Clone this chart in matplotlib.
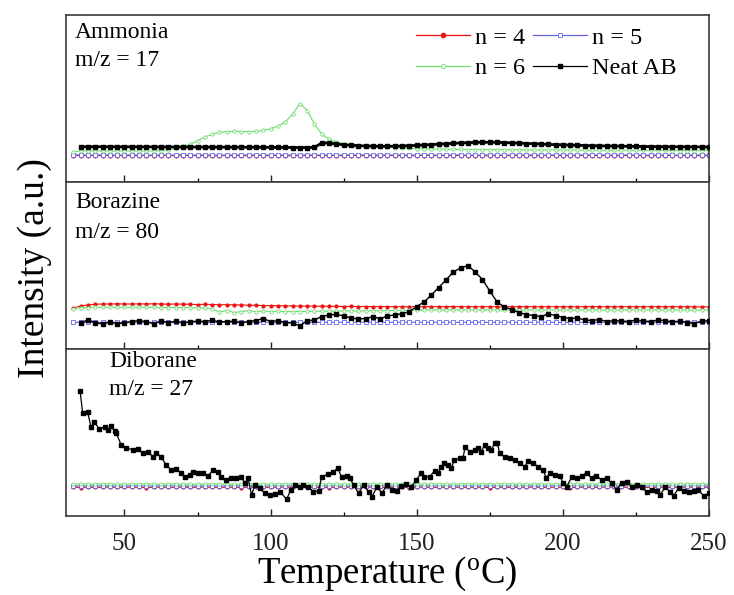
import numpy as np
import matplotlib
matplotlib.use("Agg")
import matplotlib.pyplot as plt
from matplotlib.ticker import MultipleLocator

plt.rcParams['font.family'] = ['Liberation Serif', 'DejaVu Serif']
plt.rcParams['mathtext.fontset'] = 'custom'
plt.rcParams['mathtext.rm'] = 'Liberation Serif'

# ---------------- data ----------------
# temperature sampling grid (degC) used for the digitised traces
temps = np.arange(32.5, 250.01, 2.5)          # 88 samples, 32.5 ... 250
temps_ab = temps[1:]                           # neat AB traces start at 35

series_names = ["n = 4", "n = 5", "n = 6", "Neat AB"]
panel_titles = ["Ammonia", "Borazine", "Diborane"]
panel_mz = ["m/z = 17", "m/z = 80", "m/z = 27"]
xticks = [50, 100, 150, 200, 250]

# ---- Ammonia, m/z = 17 ----
nh3_n4 = [26.3, 26.5, 26.2, 26.4, 26.3, 26.5, 26.2, 26.4,
          26.3, 26.4, 26.2, 26.5, 26.3, 26.4, 26.2, 26.3,
          26.4, 26.3, 26.5, 26.2, 26.3, 26.4, 26.3, 26.5,
          26.2, 26.3, 26.4, 26.3, 26.5, 26.3, 26.2, 26.4,
          26.3, 26.5, 26.3, 26.2, 26.4, 26.3, 26.5, 26.3,
          26.4, 26.2, 26.3, 26.5, 26.3, 26.4, 26.2, 26.3,
          26.5, 26.3, 26.4, 26.2, 26.3, 26.5, 26.3, 26.4,
          26.3, 26.2, 26.4, 26.3, 26.5, 26.3, 26.2, 26.4,
          26.3, 26.5, 26.3, 26.4, 26.2, 26.3, 26.4, 26.3,
          26.5, 26.2, 26.3, 26.4, 26.3, 26.5, 26.3, 26.2,
          26.4, 26.3, 26.5, 26.3, 26.2, 26.4, 26.3, 26.4]
nh3_n5 = [27.0, 27.1, 26.9, 27.0, 27.1, 27.0, 26.9, 27.0,
          27.1, 27.0, 27.0, 26.9, 27.1, 27.0, 27.0, 27.1,
          26.9, 27.0, 27.1, 27.0, 26.9, 27.0, 27.1, 27.0,
          27.0, 27.1, 26.9, 27.0, 27.0, 27.1, 27.0, 26.9,
          27.1, 27.0, 27.0, 27.1, 26.9, 27.0, 27.0, 27.1,
          27.0, 26.9, 27.1, 27.0, 27.0, 27.1, 26.9, 27.0,
          27.1, 27.0, 26.9, 27.0, 27.1, 27.0, 27.0, 26.9,
          27.0, 27.1, 27.0, 26.9, 27.0, 27.1, 27.0, 27.0,
          26.9, 27.0, 27.1, 27.0, 27.0, 26.9, 27.1, 27.0,
          27.0, 27.1, 26.9, 27.0, 27.1, 27.0, 27.0, 26.9,
          27.1, 27.0, 27.0, 26.9, 27.1, 27.0, 27.0, 27.0]
nh3_n6 = [30.3, 31.0, 31.0, 31.0, 31.0, 31.0, 31.0, 31.0,
          31.0, 31.0, 31.0, 31.0, 31.3, 32.0, 33.7, 36.0,
          37.7, 41.3, 45.0, 47.7, 49.7, 50.3, 50.7, 50.5,
          50.3, 50.7, 51.7, 53.0, 56.0, 60.0, 67.7, 78.5,
          71.5, 58.0, 48.0, 43.0, 40.0, 38.3, 37.0, 36.3,
          35.7, 35.3, 35.0, 34.7, 34.4, 34.0, 33.7, 33.4,
          33.2, 33.0, 32.9, 32.8, 32.7, 32.6, 32.5, 32.5,
          32.4, 32.4, 32.3, 32.3, 32.2, 32.2, 32.1, 32.1,
          32.0, 32.0, 32.0, 31.9, 31.9, 31.9, 31.8, 31.8,
          31.8, 31.8, 31.7, 31.7, 31.7, 31.7, 31.6, 31.6,
          31.6, 31.6, 31.5, 31.5, 31.5, 31.5, 31.5, 31.5]
nh3_ab = [35.3, 35.3, 35.3, 35.3, 35.2, 35.2, 35.2,
          35.2, 35.1, 35.1, 35.1, 35.0, 35.0, 35.0, 35.0,
          35.0, 34.9, 34.9, 34.9, 34.8, 34.8, 34.8, 34.8,
          34.7, 34.7, 34.7, 34.6, 34.6, 34.6, 34.5, 34.5,
          34.5, 34.6, 39.0, 39.0, 38.0, 37.2, 36.7, 36.3,
          36.0, 35.8, 35.7, 35.7, 35.8, 36.0, 36.3, 36.6,
          37.0, 37.4, 37.8, 38.2, 38.6, 39.0, 39.3, 39.6,
          39.7, 39.7, 39.6, 39.4, 39.1, 38.8, 38.5, 38.2,
          37.9, 37.6, 37.3, 37.1, 36.9, 36.7, 36.5, 36.3,
          36.1, 36.0, 35.9, 35.8, 35.7, 35.6, 35.5, 35.4,
          35.3, 35.3, 35.2, 35.2, 35.1, 35.1, 35.0, 35.0]

# ---- Borazine, m/z = 80 ----
bzn_n4 = [41.0, 43.0, 44.0, 44.7, 45.0, 45.0, 45.2, 45.0,
          45.0, 45.2, 45.0, 45.3, 45.0, 44.8, 45.0, 44.8,
          44.7, 44.5, 44.7, 44.5, 44.3, 44.3, 44.2, 44.0,
          43.8, 43.7, 43.5, 43.3, 43.3, 43.2, 43.0, 43.0,
          43.0, 42.8, 42.8, 42.7, 42.7, 42.5, 42.6, 42.5,
          42.5, 42.4, 42.4, 42.3, 42.4, 42.3, 42.3, 42.3,
          42.3, 42.4, 42.3, 42.3, 42.5, 42.3, 42.3, 42.2,
          42.3, 42.3, 42.2, 42.3, 42.3, 42.2, 42.3, 42.3,
          42.2, 42.3, 42.3, 42.2, 42.3, 42.2, 42.3, 42.5,
          42.2, 42.3, 42.2, 42.3, 42.2, 42.3, 42.2, 42.3,
          42.3, 42.2, 42.3, 42.2, 42.3, 42.2, 42.1, 42.2]
bzn_n5 = [26.7, 26.8, 26.6, 26.7, 26.7, 26.8, 26.6, 26.7,
          26.8, 26.7, 26.6, 26.7, 26.8, 26.7, 26.7, 26.6,
          26.7, 26.8, 26.7, 26.6, 26.7, 26.7, 26.8, 26.7,
          26.6, 26.7, 26.8, 26.7, 26.7, 26.6, 26.7, 26.8,
          26.7, 26.7, 26.6, 26.8, 26.7, 26.7, 26.6, 26.7,
          26.8, 26.7, 26.7, 26.6, 26.7, 26.8, 26.7, 26.7,
          26.6, 26.7, 26.8, 26.7, 26.7, 26.6, 26.7, 26.8,
          26.7, 26.6, 26.7, 26.8, 26.7, 26.7, 26.6, 26.7,
          26.8, 26.7, 26.7, 26.6, 26.7, 26.8, 26.7, 26.6,
          26.7, 26.7, 26.8, 26.7, 26.6, 26.7, 26.7, 26.8,
          26.7, 26.6, 26.7, 26.8, 26.7, 26.7, 26.6, 26.7]
bzn_n6 = [40.5, 41.2, 41.5, 41.7, 41.7, 41.7, 41.6, 41.7,
          41.7, 41.6, 41.7, 41.6, 41.5, 41.5, 41.4, 41.4,
          41.3, 41.2, 41.0, 40.0, 37.0, 38.5, 36.3, 37.5,
          38.3, 37.5, 38.0, 37.5, 37.7, 37.5, 37.4, 37.5,
          37.6, 37.7, 37.8, 37.8, 37.9, 38.0, 38.0, 38.1,
          38.2, 38.2, 38.3, 38.4, 38.6, 38.7, 38.8, 38.9,
          39.0, 39.0, 39.0, 39.0, 39.0, 39.0, 39.0, 39.0,
          39.0, 39.1, 39.0, 39.0, 38.9, 39.0, 39.0, 39.1,
          39.0, 39.0, 38.9, 39.0, 39.0, 39.1, 39.0, 39.0,
          38.9, 39.0, 39.0, 39.0, 39.1, 39.0, 38.9, 39.0,
          39.0, 39.0, 39.1, 39.0, 39.0, 38.9, 39.0, 39.0]
bzn_ab = [25.7, 29.3, 26.3, 25.2, 26.7, 25.5, 26.0,
          27.5, 28.5, 27.3, 25.2, 28.0, 26.5, 27.7, 26.3,
          27.0, 28.0, 27.3, 28.7, 27.0, 27.5, 27.7, 26.3,
          27.5, 28.5, 30.5, 27.5, 28.3, 26.5, 26.0, 23.0,
          28.3, 29.0, 32.5, 34.0, 34.7, 33.0, 31.0, 30.0,
          30.5, 32.3, 30.3, 33.0, 34.0, 35.3, 37.5, 42.5,
          47.0, 54.0, 61.5, 69.0, 77.0, 81.0, 83.5, 77.0,
          69.5, 58.0, 47.0, 42.0, 39.5, 36.5, 34.5, 33.5,
          32.5, 35.0, 33.5, 31.5, 30.5, 31.0, 29.0, 28.5,
          29.5, 27.5, 28.5, 28.0, 27.5, 29.0, 28.0, 27.5,
          29.0, 28.5, 27.0, 28.0, 26.5, 25.5, 28.0, 28.3]

# ---- Diborane, m/z = 27 ----
dbn_n4 = [28.7, 28.5, 28.8, 28.6, 28.7, 28.9, 28.6, 28.7,
          28.8, 28.7, 28.5, 28.7, 28.8, 28.6, 28.7, 28.8,
          28.6, 28.7, 28.9, 28.7, 28.6, 28.8, 28.7, 28.5,
          28.7, 28.8, 28.6, 28.7, 28.7, 28.9, 28.6, 28.7,
          28.8, 28.6, 28.7, 28.5, 28.7, 28.8, 28.7, 28.6,
          28.7, 28.9, 28.7, 28.6, 28.8, 28.7, 28.5, 28.7,
          28.8, 28.6, 28.7, 28.7, 28.9, 28.6, 28.7, 28.8,
          28.7, 28.5, 28.7, 28.8, 28.6, 28.7, 28.7, 28.9,
          28.6, 28.7, 28.8, 28.7, 28.5, 28.7, 28.8, 28.6,
          28.7, 28.9, 28.7, 28.6, 28.8, 28.7, 28.5, 28.7,
          28.8, 28.6, 28.7, 28.7, 28.9, 28.6, 28.7, 28.8]
dbn_n5 = [30.0, 30.1, 29.9, 30.0, 30.1, 30.0, 29.9, 30.0,
          30.1, 30.0, 30.0, 29.9, 30.1, 30.0, 30.0, 30.1,
          29.9, 30.0, 30.1, 30.0, 29.9, 30.0, 30.1, 30.0,
          30.0, 30.1, 29.9, 30.0, 30.0, 30.1, 30.0, 29.9,
          30.1, 30.0, 30.0, 30.1, 29.9, 30.0, 30.0, 30.1,
          30.0, 29.9, 30.1, 30.0, 30.0, 30.1, 29.9, 30.0,
          30.1, 30.0, 29.9, 30.0, 30.1, 30.0, 30.0, 29.9,
          30.0, 30.1, 30.0, 29.9, 30.0, 30.1, 30.0, 30.0,
          29.9, 30.0, 30.1, 30.0, 30.0, 29.9, 30.1, 30.0,
          30.0, 30.1, 29.9, 30.0, 30.1, 30.0, 30.0, 29.9,
          30.1, 30.0, 30.0, 29.9, 30.1, 30.0, 30.0, 30.0]
dbn_n6 = [32.0, 32.1, 31.9, 32.0, 32.0, 32.1, 32.0, 31.9,
          32.0, 32.1, 32.0, 32.0, 31.9, 32.0, 32.1, 32.0,
          32.0, 31.9, 32.0, 32.1, 32.0, 32.0, 31.9, 32.0,
          32.1, 32.0, 32.0, 31.9, 32.0, 32.1, 32.0, 32.0,
          31.9, 32.0, 32.1, 32.0, 32.0, 31.9, 32.0, 32.1,
          32.0, 32.0, 31.9, 32.0, 32.1, 32.0, 32.0, 31.9,
          32.0, 32.1, 32.0, 32.0, 31.9, 32.0, 32.1, 32.0,
          32.0, 31.9, 32.0, 32.1, 32.0, 32.0, 31.9, 32.0,
          32.1, 32.0, 32.0, 31.9, 32.0, 32.1, 32.0, 32.0,
          31.9, 32.0, 32.1, 32.0, 32.0, 31.9, 32.0, 32.1,
          32.0, 32.0, 31.9, 32.0, 32.1, 32.0, 32.0, 32.0]
dbn_ab_temps = [34.8, 35.7, 37.4, 38.6, 39.7, 41.4, 43.2, 44.3, 45.4, 46.6,
                47.2, 48.9, 50.6, 52.9, 54.6, 56.3, 58.0, 59.7, 60.9, 62.6,
                64.3, 66.0, 67.7, 69.5, 70.6, 72.3, 73.5, 75.2, 76.9, 78.6,
                80.3, 82.0, 83.2, 84.9, 86.6, 88.3, 90.0, 91.2, 92.3, 93.5,
                94.6, 96.3, 98.1, 99.8, 101.5, 103.2, 105.5, 106.9, 108.4, 110.1,
                111.2, 112.9, 114.6, 116.4, 117.5, 119.8, 121.5, 122.9, 124.4, 126.1,
                127.2, 128.4, 130.1, 131.8, 133.5, 134.7, 136.4, 138.1, 139.8, 141.5,
                143.2, 144.6, 146.3, 148.1, 149.8, 151.5, 152.6, 154.4, 156.1, 157.2,
                158.4, 159.5, 160.6, 161.8, 162.9, 164.7, 165.8, 166.6, 168.1, 169.8,
                170.9, 172.1, 173.2, 174.4, 175.5, 176.7, 177.6, 178.4, 180.1, 181.8,
                183.5, 185.2, 187.0, 188.1, 189.8, 191.5, 193.2, 194.4, 195.5, 197.3,
                199.0, 200.1, 201.3, 203.0, 204.7, 206.4, 208.1, 209.8, 211.5, 213.3,
                215.0, 216.7, 218.4, 220.1, 221.8, 223.6, 225.3, 227.0, 228.7, 230.4,
                232.1, 233.3, 235.0, 236.7, 237.9, 239.6, 241.3, 243.0, 244.7, 246.4,
                248.2, 249.9]
dbn_ab = [125.3, 103.3, 103.7, 88.7, 94.3, 86.7, 89.3, 86.0, 90.3, 85.0,
          82.7, 71.0, 68.3, 66.0, 66.7, 62.7, 64.3, 59.3, 63.3, 58.7,
          51.0, 46.0, 47.0, 42.7, 38.7, 41.0, 44.3, 42.7, 42.7, 40.0,
          46.0, 44.3, 39.3, 36.0, 37.7, 37.7, 39.3, 32.7, 37.7, 21.0,
          31.0, 27.7, 22.7, 21.0, 22.0, 24.3, 16.7, 26.0, 31.0, 29.3,
          31.0, 29.3, 24.3, 25.3, 39.3, 42.0, 44.3, 47.7, 38.7, 40.0,
          37.7, 31.0, 22.7, 31.0, 24.3, 19.3, 29.3, 22.7, 31.0, 26.0,
          25.3, 30.0, 32.0, 28.7, 36.0, 42.7, 39.3, 39.3, 45.0, 42.7,
          49.3, 53.3, 51.0, 47.7, 56.0, 57.7, 57.7, 69.3, 64.3, 66.0,
          67.7, 64.3, 71.0, 67.7, 66.0, 72.7, 72.7, 62.7, 58.7, 57.7,
          56.0, 53.3, 49.3, 55.3, 53.3, 49.3, 46.0, 37.7, 43.3, 41.0,
          40.0, 32.7, 29.3, 38.7, 37.7, 40.0, 43.3, 37.7, 40.0, 36.0,
          37.7, 32.7, 26.0, 33.3, 34.3, 29.3, 31.0, 28.7, 24.3, 26.0,
          25.3, 21.0, 29.3, 24.3, 20.3, 27.7, 25.3, 24.3, 25.3, 26.0,
          20.0, 22.7]

panels = [
    (temps, nh3_n4, temps, nh3_n5, temps, nh3_n6, temps_ab, nh3_ab),
    (temps, bzn_n4, temps, bzn_n5, temps, bzn_n6, temps_ab, bzn_ab),
    (temps, dbn_n4, temps, dbn_n5, temps, dbn_n6, dbn_ab_temps, dbn_ab),
]

# ---------------- styles ----------------
styles = [
    dict(color='#ee1111', marker='o', mfc='#ee1111', mec='#ee1111', ms=2.0, lw=0.8),
    dict(color='#6464e8', marker='s', mfc='white', mec='#6464e8', ms=2.2, lw=0.8, mew=0.6),
    dict(color='#6edc6e', marker='o', mfc='white', mec='#6edc6e', ms=2.4, lw=0.8, mew=0.6),
    dict(color='black', marker='s', mfc='black', mec='black', ms=2.2, lw=1.0),
]
ab_lw = [2.0, 1.0, 0.9]

fig, axes = plt.subplots(3, 1, sharex=True, figsize=(7.34, 5.95), dpi=100)
fig.subplots_adjust(left=66/734, right=709/734, top=1-15/595, bottom=1-516/595, hspace=0)

title_pos = [(0.014, 0.862, 0.695), (0.014, 0.844, 0.665), (0.067, 0.892, 0.725)]

handles = []
for i, ax in enumerate(axes):
    data = panels[i]
    hs = []
    for k in range(4):
        st = dict(styles[k])
        if k == 3:
            st['lw'] = ab_lw[i]
        h, = ax.plot(data[2*k], data[2*k+1], label=series_names[k], zorder=2 + (k == 3), **st)
        hs.append(h)
    if i == 0:
        handles = hs
    ax.set_xlim(30, 250)
    ax.set_ylim(0, 167)
    ax.set_yticks([])
    ax.xaxis.set_major_locator(MultipleLocator(50))
    ax.xaxis.set_minor_locator(MultipleLocator(25))
    ax.tick_params(axis='x', which='major', direction='in', length=5, width=1.0,
                   top=False, labelsize=18, pad=12, colors='#222222')
    ax.tick_params(axis='x', which='minor', direction='in', length=3, width=0.9, top=False)
    for sp in ax.spines.values():
        sp.set_color('#3a3a3a')
        sp.set_linewidth(1.2)
    tx, ty1, ty2 = title_pos[i]
    ax.text(tx, ty1, panel_titles[i], transform=ax.transAxes, fontsize=17, va='baseline', ha='left')
    ax.text(tx, ty2, panel_mz[i], transform=ax.transAxes, fontsize=17, va='baseline', ha='left')

axes[2].set_xticks(xticks)
axes[2].set_xlabel(r'Temperature ($\mathregular{^o}$C)', fontsize=26.5, labelpad=0)

leg_order = [handles[0], handles[2], handles[1], handles[3]]
leg = axes[0].legend(leg_order, [h.get_label() for h in leg_order], ncol=2, frameon=False,
                     fontsize=17.5, numpoints=1, handlelength=2.2, handletextpad=0.2,
                     columnspacing=0.35, labelspacing=0.35, borderpad=0, borderaxespad=0,
                     loc='upper right', bbox_to_anchor=(0.949, 0.93))
for lh in leg.legend_handles:
    lh.set_linewidth(0.9)
    lh.set_markersize(3.0)

fig.text(35/734, 1-268/595, 'Intensity (a.u.)', rotation=90, fontsize=27,
         ha='center', va='center')

fig.savefig('out.png', dpi=100)
